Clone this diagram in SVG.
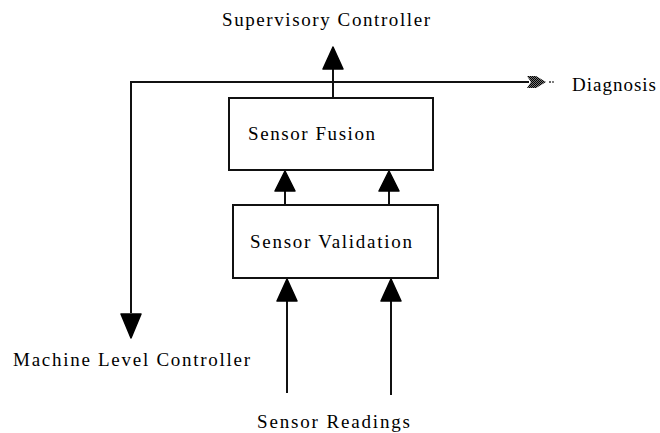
<svg xmlns="http://www.w3.org/2000/svg" width="660" height="433" viewBox="0 0 660 433">
  <style>
    .lbl { font-family: "Liberation Serif", "DejaVu Serif", serif; font-size: 19px; fill: #000; }
    .box { fill: #fff; stroke: #111; stroke-width: 2; }
    .wire { fill: none; stroke: #111; stroke-width: 2; }
    .head { fill: #000; stroke: #000; stroke-width: 1.5; stroke-linejoin: round; }
  </style>
  <defs>
    <pattern id="stipple" width="2" height="2" patternUnits="userSpaceOnUse">
      <rect width="2" height="2" fill="#777"/>
      <rect width="1" height="1" fill="#000"/>
      <rect x="1" y="1" width="1" height="1" fill="#000"/>
    </pattern>
  </defs>

  <rect width="660" height="433" fill="#fff"/>

  <g id="connectors">
    <!-- bus from the fusion output: left down to machine controller, right out to diagnosis -->
    <polyline class="wire" points="529,82 131,82 131,313"/>
    <path class="head" d="M131 338 L121 314 L141 314 Z"/>
    <!-- stippled diagnosis arrowhead -->
    <path d="M527 76 L536 76 L546 82 L536 88 L527 88 L531 82 Z" fill="url(#stipple)"/>
    <circle cx="550" cy="82" r="1" fill="#333"/>
    <circle cx="553" cy="82" r="1" fill="#555"/>
    <!-- fusion to supervisory controller -->
    <line class="wire" x1="333" y1="98" x2="333" y2="69"/>
    <path class="head" d="M333 47 L323 69 L343 69 Z"/>
    <!-- validation to fusion -->
    <line class="wire" x1="285" y1="205" x2="285" y2="190"/>
    <path class="head" d="M285 171 L275 191 L295 191 Z"/>
    <line class="wire" x1="389" y1="205" x2="389" y2="190"/>
    <path class="head" d="M389 171 L379 191 L399 191 Z"/>
    <!-- sensor readings to validation -->
    <line class="wire" x1="287" y1="393" x2="287" y2="300"/>
    <path class="head" d="M287 279 L277 301 L297 301 Z"/>
    <line class="wire" x1="391" y1="395" x2="391" y2="300"/>
    <path class="head" d="M391 279 L381 301 L401 301 Z"/>
  </g>

  <g id="sensor-fusion">
    <rect class="box" x="229" y="98" width="204" height="72"/>
    <text class="lbl" x="248" y="140" textLength="127" lengthAdjust="spacing">Sensor Fusion</text>
  </g>

  <g id="sensor-validation">
    <rect class="box" x="233" y="205" width="205" height="73"/>
    <text class="lbl" x="250" y="248" textLength="162" lengthAdjust="spacing">Sensor Validation</text>
  </g>

  <g id="supervisory-controller">
    <text class="lbl" x="222" y="26" textLength="208" lengthAdjust="spacing">Supervisory Controller</text>
  </g>

  <g id="diagnosis">
    <text class="lbl" x="572" y="91" textLength="84" lengthAdjust="spacing">Diagnosis</text>
  </g>

  <g id="machine-level-controller">
    <text class="lbl" x="13" y="366" textLength="237" lengthAdjust="spacing">Machine Level Controller</text>
  </g>

  <g id="sensor-readings">
    <text class="lbl" x="257" y="428" textLength="153" lengthAdjust="spacing">Sensor Readings</text>
  </g>
</svg>
